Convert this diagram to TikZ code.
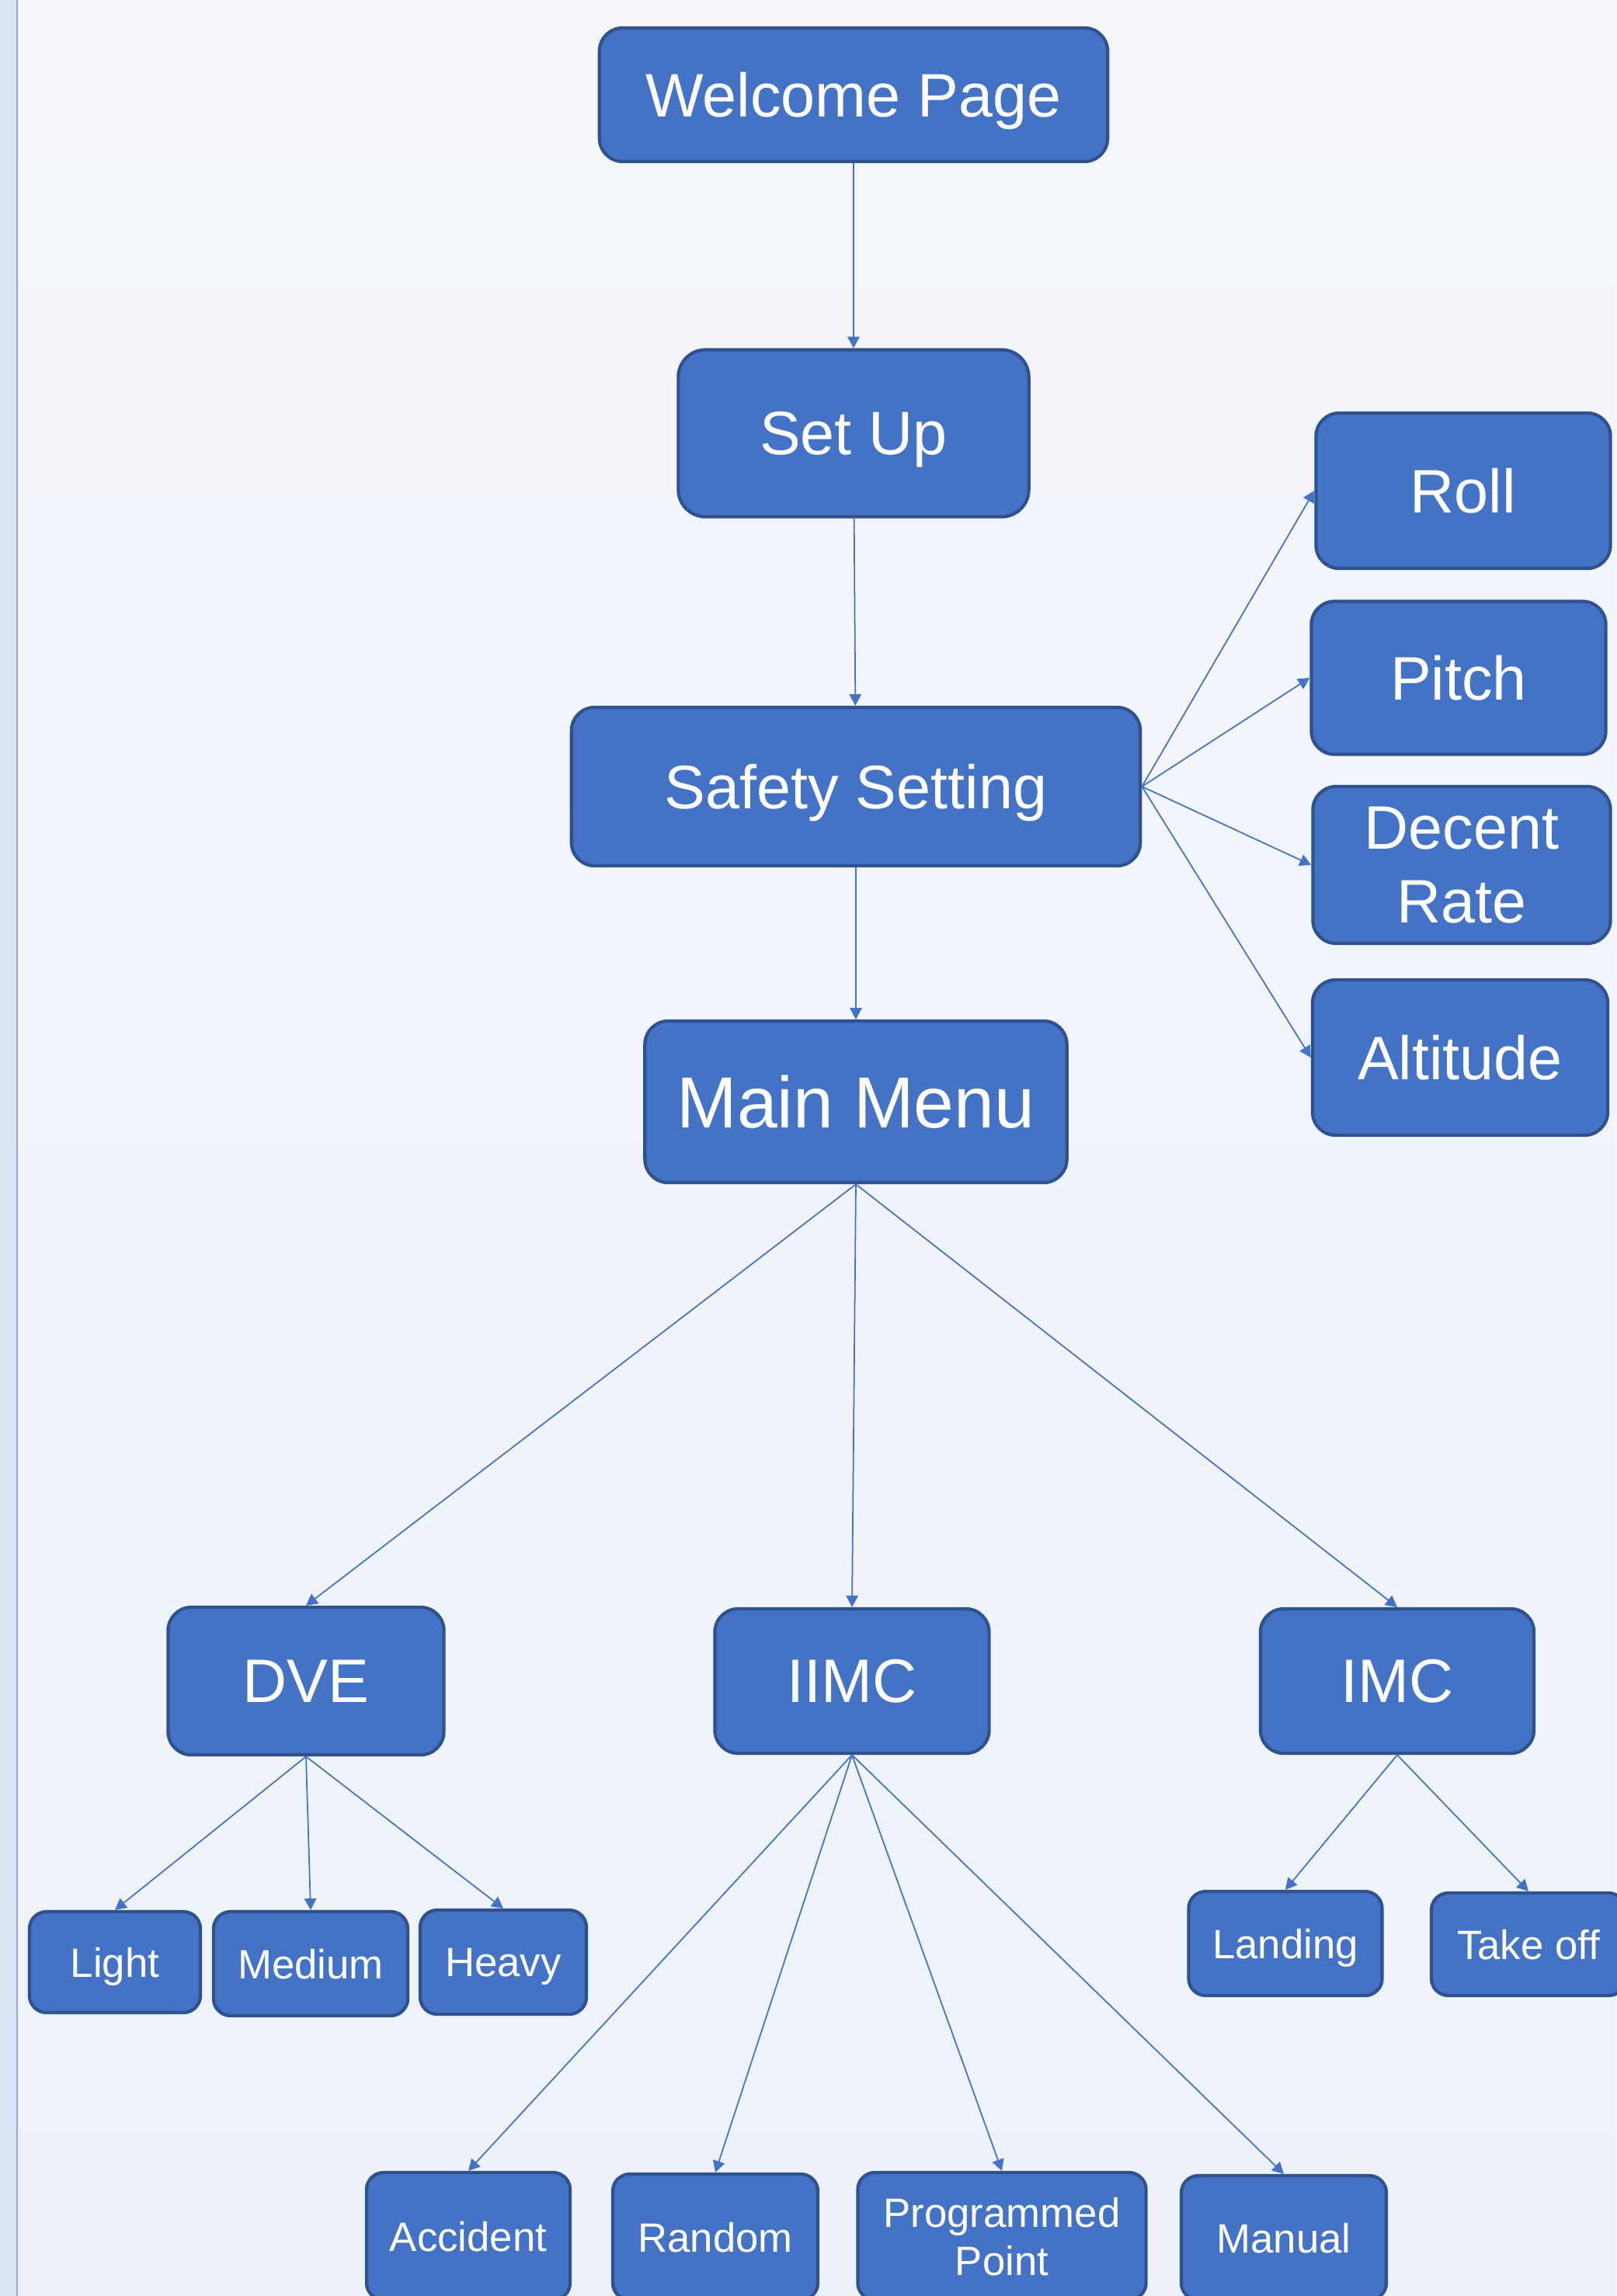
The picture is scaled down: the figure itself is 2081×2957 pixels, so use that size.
\documentclass[tikz,border=0pt]{standalone}
\usepackage{fontspec}
\setmainfont{Liberation Sans}
\usepackage{xcolor}
\usetikzlibrary{arrows.meta}

\definecolor{boxblue}{HTML}{4472C4}
\definecolor{boxline}{HTML}{2F528F}
\definecolor{pagetop}{HTML}{F4F6FB}
\definecolor{pagebot}{HTML}{EDF2FA}
\definecolor{stripfill}{HTML}{DAE3F3}
\definecolor{stripline}{HTML}{8FAADC}

\begin{document}
\begin{tikzpicture}[x=0.01cm, y=-0.01cm, >={Triangle[length=4.2pt, width=4.4pt]},
  box/.style={draw=boxline, fill=boxblue, line width=1.2pt, rounded corners=0.3cm,
    text=white, align=center, inner sep=0pt, text depth=0pt},
  bigbox/.style={box, font=\fontsize{22.5}{27}\selectfont},
  smallbox/.style={box, rounded corners=0.22cm, font=\fontsize{15}{17.7}\selectfont},
  link/.style={->, draw=boxblue, line width=0.5pt}]

  % page
  \useasboundingbox (0,0) rectangle (2081,2957);
  \shade[top color=pagetop, bottom color=pagebot] (0,0) rectangle (2081,2957);
  \fill[stripfill] (0,0) rectangle (22,2957);
  \draw[stripline, line width=0.6pt] (22,0) -- (22,2957);

  \node[bigbox, minimum width=6.54cm, minimum height=1.72cm] (welcome) at (1099,122) {Welcome Page};
  \node[bigbox, minimum width=4.51cm, minimum height=2.15cm, rounded corners=0.35cm] (setup) at (1099,558) {Set Up};
  \node[bigbox, minimum width=7.32cm, minimum height=2.04cm] (safety) at (1102,1013) {Safety Setting};
  \node[bigbox, font=\fontsize{26.5}{31}\selectfont, minimum width=5.43cm, minimum height=2.08cm] (mainmenu) at (1102,1419) {Main Menu};

  % safety options
  \node[bigbox, minimum width=3.79cm, minimum height=2.00cm] (roll) at (1884,632) {Roll};
  \node[bigbox, minimum width=3.79cm, minimum height=1.97cm] (pitch) at (1878,873) {Pitch};
  \node[bigbox, minimum width=3.83cm, minimum height=2.02cm] (decent) at (1882,1114) {Decent\\Rate};
  \node[bigbox, minimum width=3.80cm, minimum height=2.00cm] (altitude) at (1880,1362) {Altitude};

  % modes
  \node[bigbox, minimum width=3.55cm, minimum height=1.90cm] (dve) at (394,2165) {DVE};
  \node[bigbox, minimum width=3.53cm, minimum height=1.86cm] (iimc) at (1097,2165) {IIMC};
  \node[bigbox, minimum width=3.52cm, minimum height=1.86cm] (imc) at (1799,2165) {IMC};

  \node[smallbox, minimum width=2.20cm, minimum height=1.30cm] (light) at (148,2527) {Light};
  \node[smallbox, minimum width=2.50cm, minimum height=1.34cm] (medium) at (400,2529) {Medium};
  \node[smallbox, minimum width=2.14cm, minimum height=1.34cm] (heavy) at (648,2527) {Heavy};

  \node[smallbox, minimum width=2.49cm, minimum height=1.34cm] (landing) at (1655,2503) {Landing};
  \node[smallbox, minimum width=2.50cm, minimum height=1.32cm] (takeoff) at (1968,2504) {Take off};

  \node[smallbox, minimum width=2.62cm, minimum height=1.64cm] (accident) at (603,2880) {Accident};
  \node[smallbox, minimum width=2.64cm, minimum height=1.62cm] (random) at (921,2881) {Random};
  \node[smallbox, minimum width=3.71cm, minimum height=1.64cm] (programmed) at (1290,2880) {Programmed\\Point};
  \node[smallbox, minimum width=2.64cm, minimum height=1.60cm] (manual) at (1653,2882) {Manual};

  \draw[link] (welcome) -- (setup);
  \draw[link] (setup) -- (safety);
  \draw[link] (safety) -- (mainmenu);

  \draw[link] (safety.east) -- (roll.west);
  \draw[link] (safety.east) -- (pitch.west);
  \draw[link] (safety.east) -- (decent.west);
  \draw[link] (safety.east) -- (altitude.west);

  \draw[link] (mainmenu.south) -- (dve.north);
  \draw[link] (mainmenu.south) -- (iimc.north);
  \draw[link] (mainmenu.south) -- (imc.north);

  \draw[link] (dve.south) -- (light.north);
  \draw[link] (dve.south) -- (medium.north);
  \draw[link] (dve.south) -- (heavy.north);

  \draw[link] (iimc.south) -- (accident.north);
  \draw[link] (iimc.south) -- (random.north);
  \draw[link] (iimc.south) -- (programmed.north);
  \draw[link] (iimc.south) -- (manual.north);

  \draw[link] (imc.south) -- (landing.north);
  \draw[link] (imc.south) -- (takeoff.north);
\end{tikzpicture}
\end{document}
